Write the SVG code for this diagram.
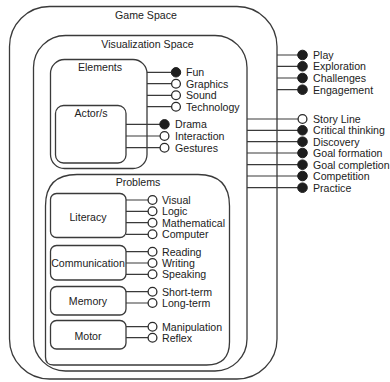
<svg xmlns="http://www.w3.org/2000/svg" width="390" height="382" viewBox="0 0 390 382">
<style>
.box{fill:none;stroke:#3a3a3a;stroke-width:1.3}
.ln{stroke:#3a3a3a;stroke-width:1.2;fill:none}
.o{fill:#fff;stroke:#2a2a2a;stroke-width:1.3}
.f{fill:#1e1e1e;stroke:#1e1e1e;stroke-width:1}
text{font-family:"Liberation Sans",Arial,sans-serif;font-size:10.6px;fill:#222}
.c{text-anchor:middle}
</style>
<rect width="390" height="382" fill="#fff"/>
<g id="connectors">
<path class="ln" d="M147 72.3H171M147 83.7H171M147 95.3H171M147 106.7H171"/>
<path class="ln" d="M126 124.3H160M126 136H160M126 147.7H160"/>
<path class="ln" d="M277 55H298M277 66.3H298M277 78H298M277 89.7H298"/>
<path class="ln" d="M247 119H298M247 130.3H298M247 141.7H298M247 153H298M247 164.7H298M247 176H298M247 187.7H298"/>
<path class="ln" d="M126 200H148M126 211.3H148M126 222.7H148M126 234.3H148"/>
<path class="ln" d="M126 251.7H148M126 263H148M126 274.3H148"/>
<path class="ln" d="M126 291.7H148M126 303H148"/>
<path class="ln" d="M126 326.7H148M126 337.7H148"/>
</g>
<g id="game-space">
<rect class="box" x="9.5" y="6.5" width="267.5" height="372.5" rx="40"/>
<text class="c" x="146" y="19">Game Space</text>
</g>
<g id="visualization-space">
<rect class="box" x="33.5" y="35.5" width="213.5" height="335.5" rx="32"/>
<text class="c" x="147.5" y="47.5">Visualization Space</text>
</g>
<g id="elements">
<rect class="box" x="50.5" y="59.5" width="96.5" height="109" rx="14"/>
<text class="c" x="100" y="71">Elements</text>
</g>
<g id="actors">
<rect class="box" x="55.5" y="105.5" width="70.5" height="57.5" rx="8"/>
<text class="c" x="91" y="117">Actor/s</text>
</g>
<g id="problems">
<path class="box" d="M45.5 357V206Q45.5 174.5 77 174.5H198Q229.5 174.5 229.5 206V342Q229.5 365 206.5 365H53.5Q45.5 365 45.5 357Z"/>
<text class="c" x="138" y="185.5">Problems</text>
</g>
<g id="literacy">
<rect class="box" x="50.5" y="193.5" width="75.5" height="44" rx="6"/>
<text class="c" x="88" y="220.5">Literacy</text>
</g>
<g id="communication">
<rect class="box" x="50.5" y="245.5" width="75.5" height="34.5" rx="6"/>
<text class="c" x="88" y="266.8">Communication</text>
</g>
<g id="memory">
<rect class="box" x="50.5" y="286.5" width="75.5" height="28.5" rx="6"/>
<text class="c" x="88" y="304.8">Memory</text>
</g>
<g id="motor">
<rect class="box" x="50.5" y="320.5" width="75.5" height="28.5" rx="6"/>
<text class="c" x="88" y="339.5">Motor</text>
</g>
<g id="element-items">
<circle class="f" cx="176" cy="72.3" r="4.7"/><text x="186" y="76">Fun</text>
<circle class="o" cx="176" cy="83.7" r="4.4"/><text x="186" y="87.5">Graphics</text>
<circle class="o" cx="176" cy="95.3" r="4.4"/><text x="186" y="99">Sound</text>
<circle class="o" cx="176" cy="106.7" r="4.4"/><text x="186" y="110.5">Technology</text>
</g>
<g id="actor-items">
<circle class="f" cx="164.5" cy="124.3" r="4.7"/><text x="175" y="128">Drama</text>
<circle class="o" cx="164.5" cy="136" r="4.4"/><text x="175" y="139.8">Interaction</text>
<circle class="o" cx="164.5" cy="147.7" r="4.4"/><text x="175" y="151.5">Gestures</text>
</g>
<g id="game-items">
<circle class="f" cx="302.5" cy="55" r="4.8"/><text x="313" y="58.8">Play</text>
<circle class="f" cx="302.5" cy="66.3" r="4.8"/><text x="313" y="70">Exploration</text>
<circle class="f" cx="302.5" cy="78" r="4.8"/><text x="313" y="81.8">Challenges</text>
<circle class="f" cx="302.5" cy="89.7" r="4.8"/><text x="313" y="93.5">Engagement</text>
</g>
<g id="visualization-items">
<circle class="o" cx="302.5" cy="119" r="4.4"/><text x="313" y="122.8">Story Line</text>
<circle class="f" cx="302.5" cy="130.3" r="4.8"/><text x="313" y="134">Critical thinking</text>
<circle class="f" cx="302.5" cy="141.7" r="4.8"/><text x="313" y="145.5">Discovery</text>
<circle class="f" cx="302.5" cy="153" r="4.8"/><text x="313" y="156.8">Goal formation</text>
<circle class="f" cx="302.5" cy="164.7" r="4.8"/><text x="313" y="168.5">Goal completion</text>
<circle class="f" cx="302.5" cy="176" r="4.8"/><text x="313" y="179.8">Competition</text>
<circle class="f" cx="302.5" cy="187.7" r="4.8"/><text x="313" y="191.5">Practice</text>
</g>
<g id="problem-items">
<circle class="o" cx="152.5" cy="200" r="4.4"/><text x="162" y="203.8">Visual</text>
<circle class="o" cx="152.5" cy="211.3" r="4.4"/><text x="162" y="215">Logic</text>
<circle class="o" cx="152.5" cy="222.7" r="4.4"/><text x="162" y="226.5">Mathematical</text>
<circle class="o" cx="152.5" cy="234.3" r="4.4"/><text x="162" y="238">Computer</text>
<circle class="o" cx="152.5" cy="251.7" r="4.4"/><text x="162" y="255.5">Reading</text>
<circle class="o" cx="152.5" cy="263" r="4.4"/><text x="162" y="266.8">Writing</text>
<circle class="o" cx="152.5" cy="274.3" r="4.4"/><text x="162" y="278">Speaking</text>
<circle class="o" cx="152.5" cy="291.7" r="4.4"/><text x="162" y="295.5">Short-term</text>
<circle class="o" cx="152.5" cy="303" r="4.4"/><text x="162" y="306.8">Long-term</text>
<circle class="o" cx="152.5" cy="326.7" r="4.4"/><text x="162" y="330.5">Manipulation</text>
<circle class="o" cx="152.5" cy="337.7" r="4.4"/><text x="162" y="341.5">Reflex</text>
</g>
</svg>
